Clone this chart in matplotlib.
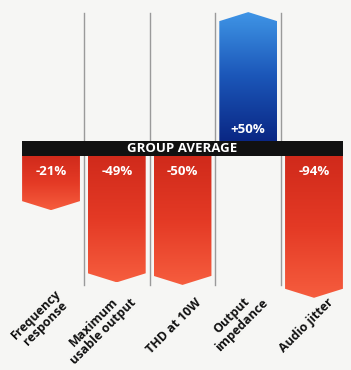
import numpy as np
import matplotlib.pyplot as plt
from matplotlib.patches import Polygon, Rectangle
from matplotlib.colors import LinearSegmentedColormap

plt.rcParams['font.family'] = ['Open Sans', 'DejaVu Sans']

# percentage difference against the group average
labels = ["Frequency\nresponse", "Maximum\nusable output", "THD at 10W",
          "Output\nimpedance", "Audio jitter"]
values = [-21, -49, -50, 50, -94]
value_text = ["-21%", "-49%", "-50%", "+50%", "-94%"]

cap = 55          # longest bar drawn, bars beyond this are cut short
band = 2.9        # half height of the group average band
tip = 3.5         # depth of the arrow point
width = 0.88

reds = LinearSegmentedColormap.from_list("reds", ["#d02a1b", "#e43a25", "#f65d3e"])
blues = LinearSegmentedColormap.from_list("blues", ["#0a2784", "#1b56b8", "#3f95e6"])

fig = plt.figure(figsize=(3.51, 3.70), dpi=100)
fig.patch.set_facecolor("#f6f6f4")
ax = fig.add_axes([0, 0, 1, 1])
ax.set_facecolor("#f6f6f4")

# column separators
for xs in np.arange(0.5, len(values) - 0.5, 1):
    ax.plot([xs, xs], [-52.9, 52.5], color="#9a9a9a", lw=1, zorder=1)

grad = np.linspace(0, 1, 256).reshape(-1, 1)
for i, v in enumerate(values):
    sgn = np.sign(v)
    length = min(abs(v), cap)
    y0 = sgn * band
    y1 = sgn * (band + length)
    ys = y1 - sgn * tip
    l, r = i - width / 2, i + width / 2
    poly = Polygon([(l, y0), (l, ys), (i, y1), (r, ys), (r, y0)],
                   closed=True, facecolor="none", edgecolor="none")
    ax.add_patch(poly)
    cmap = blues if v > 0 else reds
    # gradient runs from the band out to the tip
    im = ax.imshow(grad, cmap=cmap, aspect="auto", zorder=2,
                   extent=[l, r, y0, y1] if v > 0 else [l, r, y1, y0],
                   origin="lower" if v > 0 else "upper")
    im.set_clip_path(poly)
    ty = y0 + 4.4 if v > 0 else y0 - 6.2
    ax.text(i, ty, value_text[i], color="white", fontsize=9.5,
            fontweight="bold", ha="center", va="center", zorder=4)

# group average band
ax.add_patch(Rectangle((-width / 2, -band), len(values) - 1 + width, 2 * band,
                       facecolor="#111111", edgecolor="none", zorder=3))
ax.text(2, 0, "GROUP AVERAGE", color="white", fontsize=9.5, fontweight="bold",
        ha="center", va="center", zorder=4)

# category labels, slanted under each column
for i, lab in enumerate(labels):
    ax.text(i + 0.3, -60, lab, rotation=45, rotation_mode="anchor",
            ha="right", va="baseline", multialignment="center",
            fontsize=9, fontweight="bold", color="#111111",
            linespacing=1.0)

ax.set_xlim(-0.776, 4.563)
ax.set_ylim(-85.9, 57.6)
ax.axis("off")

fig.savefig("out.png", dpi=100, facecolor=fig.get_facecolor())
